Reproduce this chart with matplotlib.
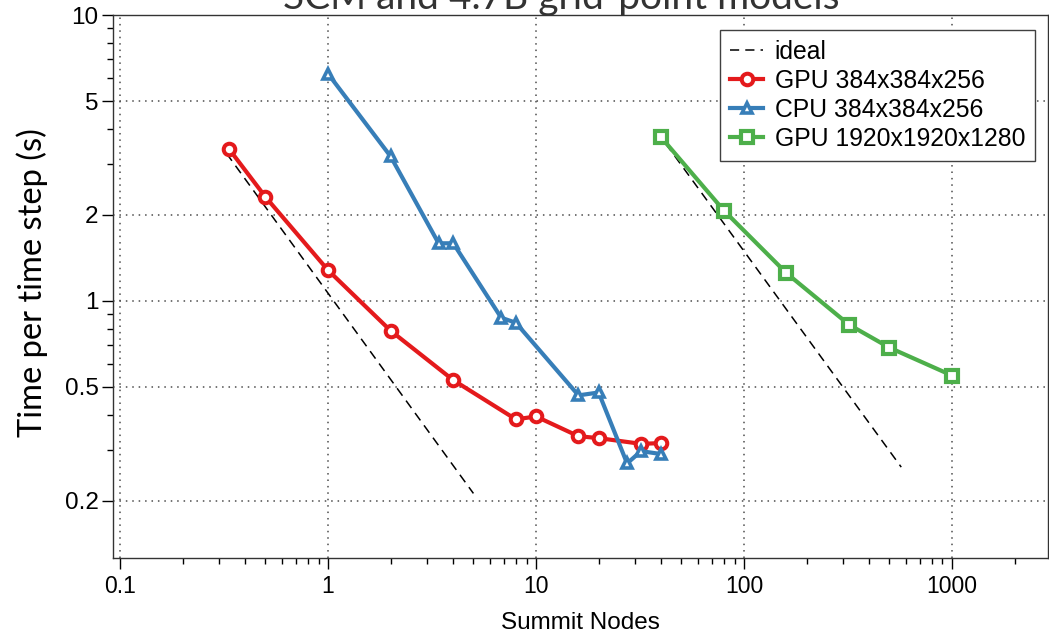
import matplotlib
matplotlib.use("Agg")
import matplotlib.pyplot as plt
from matplotlib.ticker import FixedLocator, NullFormatter, FixedFormatter

# ---- data ----
gpu384_nodes = [0.333, 0.5, 1, 2, 4, 8, 10, 16, 20, 32, 40]
gpu384_time = [3.41, 2.31, 1.28, 0.786, 0.528, 0.385, 0.394, 0.336, 0.331, 0.316, 0.318]

cpu384_nodes = [1, 2, 3.4, 4, 6.8, 8, 16, 20, 27.4, 32, 40]
cpu384_time = [6.23, 3.20, 1.59, 1.59, 0.873, 0.838, 0.467, 0.478, 0.270, 0.298, 0.291]

gpu1920_nodes = [40, 80, 160, 320, 500, 1000]
gpu1920_time = [3.73, 2.07, 1.25, 0.825, 0.686, 0.548]

ideal1_nodes = [0.325, 5.0]
ideal1_time = [3.28, 0.212]
ideal2_nodes = [42, 570]
ideal2_time = [3.55, 0.262]

y_major = [0.2, 0.5, 1, 2, 5, 10]
y_major_labels = ["0.2", "0.5", "1", "2", "5", "10"]
y_minor = [0.3, 0.4, 0.6, 0.7, 0.8, 0.9, 3, 4, 6, 7, 8, 9]
x_major = [0.1, 1, 10, 100, 1000]
x_major_labels = ["0.1", "1", "10", "100", "1000"]

labels = ["ideal", "GPU 384x384x256", "CPU 384x384x256", "GPU 1920x1920x1280"]
red, blue, green = "#e41a1c", "#377eb8", "#4daf4a"

W, H = 1049, 633
fig = plt.figure(figsize=(W / 100, H / 100), dpi=100)
ax = fig.add_axes([113 / W, 1 - 558 / H, (1048 - 113) / W, (558 - 15) / H])
ax.set_xscale("log")
ax.set_yscale("log")
ax.set_xlim(0.0925, 2894)
ax.set_ylim(0.126, 10)

ideal_kw = dict(color="black", lw=1.1, dashes=(6, 4))
h0, = ax.plot(ideal1_nodes, ideal1_time, **ideal_kw)
ax.plot(ideal2_nodes, ideal2_time, **ideal_kw)
h1, = ax.plot(gpu384_nodes, gpu384_time, color=red, lw=3.0, marker="o", ms=8.3,
              mew=2.9, mfc="white", mec=red)
h2, = ax.plot(cpu384_nodes, cpu384_time, color=blue, lw=3.0, marker="^", ms=7.2,
              mew=2.6, mfc="white", mec=blue)
h3, = ax.plot(gpu1920_nodes, gpu1920_time, color=green, lw=3.0, marker="s", ms=8.3,
              mew=3.0, mfc="white", mec=green)

# ticks
ax.yaxis.set_major_locator(FixedLocator(y_major))
ax.yaxis.set_major_formatter(FixedFormatter(y_major_labels))
ax.yaxis.set_minor_locator(FixedLocator(y_minor))
ax.yaxis.set_minor_formatter(NullFormatter())
ax.xaxis.set_major_locator(FixedLocator(x_major))
ax.xaxis.set_major_formatter(FixedFormatter(x_major_labels))
ax.tick_params(which="major", direction="out", length=8, width=1, labelsize=16.5,
               pad=4, top=False, right=False)
ax.tick_params(axis="y", which="major", labelsize=17.5, pad=2.5)
ax.tick_params(which="minor", direction="out", length=4, width=1, top=False, right=False)
for lab in ax.get_xticklabels() + ax.get_yticklabels():
    lab.set_family("Liberation Sans")

ax.grid(True, which="major", color="0.3", lw=1.1, linestyle=(0, (1, 3.2)))
for s in ax.spines.values():
    s.set_linewidth(1.0)
    s.set_color("0.2")

ax.set_xlabel("Summit Nodes", family="Liberation Sans", fontsize=17.5, labelpad=10)
fig.text(32 / W, 1 - 283 / H, "Time per time step (s)", family="Lato", fontsize=23.5,
         rotation=90, ha="center", va="center")
fig.text(561 / W, 1 - 9 / H, "SCM and 4.7B grid-point models", family="Lato",
         fontsize=28, ha="center", va="baseline", color="0.2")

leg = ax.legend([h0, h1, h2, h3], labels, loc="upper right",
                bbox_to_anchor=(1035 / W, 1 - 30 / H), bbox_transform=fig.transFigure,
                prop={"family": "Liberation Sans", "size": 17.8}, frameon=True,
                fancybox=False, framealpha=1, edgecolor="0.25", borderpad=0.4,
                labelspacing=0.2, handlelength=1.35, handletextpad=0.45,
                borderaxespad=0)
leg.get_frame().set_linewidth(1.0)

fig.savefig("out.png", dpi=100)
